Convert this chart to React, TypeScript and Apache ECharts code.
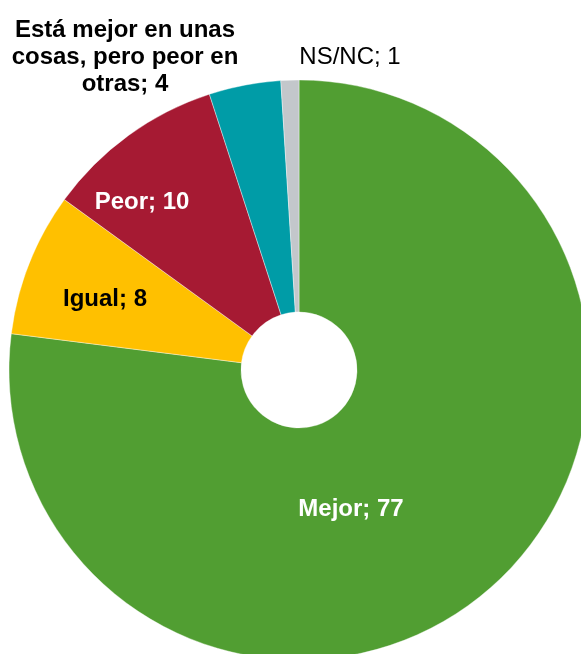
import React, { useEffect, useRef } from "react";
import * as echarts from "echarts";

const categories = [
  "Mejor",
  "Igual",
  "Peor",
  "Está mejor en unas\ncosas, pero peor en\notras",
  "NS/NC",
];
const values = [77, 8, 10, 4, 1];
const colors = ["#519E32", "#FFC000", "#A61A33", "#009CA7", "#C3C7CB"];
const labelColors = ["#ffffff", "#000000", "#ffffff", "#000000", "#000000"];
const labelWeights = ["bold", "bold", "bold", "bold", "normal"];
const labelPositions: [number, number][] = [
  [351, 507],
  [105, 297],
  [142, 200],
  [125, 55],
  [350, 55],
];

export default function App() {
  const ref = useRef<HTMLDivElement>(null);
  useEffect(() => {
    if (!ref.current) return;
    const chart = echarts.init(ref.current, null, { renderer: "svg" });
    const font = '"Liberation Sans", Arial, Helvetica, sans-serif';
    chart.setOption({
      animation: false,
      series: [
        {
          type: "pie",
          center: [299, 370],
          radius: [58, 290],
          startAngle: 90,
          clockwise: true,
          avoidLabelOverlap: false,
          labelLine: { show: false },
          itemStyle: { borderColor: "#ffffff", borderWidth: 0.4 },
          data: categories.map((name, i) => ({
            name,
            value: values[i],
            itemStyle: { color: colors[i] },
            label: {
              show: true,
              color: labelColors[i],
              fontWeight: labelWeights[i],
              fontSize: 24,
              lineHeight: 27,
              fontFamily: font,
              align: "center",
              formatter: (p: any) => `${p.name}; ${p.value}`,
            },
          })),
          labelLayout: (params: any) => {
            const pos = labelPositions[params.dataIndex];
            return {
              x: pos[0],
              y: pos[1],
              align: "center",
              verticalAlign: "middle",
            };
          },
        },
      ],
    });
    return () => chart.dispose();
  }, []);
  return (
    <div
      ref={ref}
      style={{ position: "fixed", left: 0, top: 0, width: 581, height: 654 }}
    />
  );
}
